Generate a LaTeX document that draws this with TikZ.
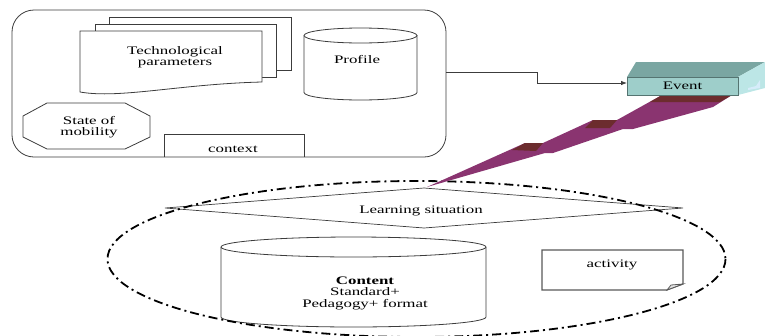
\documentclass[tikz,border=0pt]{standalone}
\usepackage{fontspec}
\setmainfont[FakeStretch=1.47]{Liberation Serif}
\usetikzlibrary{arrows.meta}
\definecolor{evfront}{RGB}{158,206,202}
\definecolor{evtop}{RGB}{122,166,162}
\definecolor{evside}{RGB}{188,230,230}
\definecolor{evpale}{RGB}{214,236,250}
\definecolor{wpurple}{RGB}{138,52,112}
\definecolor{wmaroon}{RGB}{108,44,46}
\definecolor{linegray}{RGB}{60,60,60}
\begin{document}
\begin{tikzpicture}[x=1pt,y=-1pt,
  shapeline/.style={draw=linegray, line width=0.8pt},
  lbl/.style={font=\fontsize{11.5}{11.5}\selectfont, align=center, inner sep=0pt},
  dashdotline/.style={draw=black, line width=1.8pt, dash pattern=on 9pt off 4pt on 2pt off 4pt},
  arr/.style={draw=linegray, line width=0.8pt, -{Latex[length=6pt,width=4.5pt]}}]
\useasboundingbox (0,0) rectangle (765,335);

% outer rounded box
\node[shapeline, rounded corners=22pt, minimum width=434pt, minimum height=147pt, inner sep=0pt] (outer) at (229,83.5) {};

% technological parameters (multi-document)
\draw[shapeline, fill=white] (109,17) rectangle (291,70);
\draw[shapeline, fill=white] (95,24) rectangle (276,77);
\draw[shapeline, fill=white] (80,31) -- (262,31) -- (262,82) .. controls (180,84) and (120,99) .. (80,92) -- cycle;
\node[lbl] (tech) at (175,57) {Technological\\parameters};

% profile cylinder
\fill[white] (304,35.5) rectangle (417,92.5);
\draw[shapeline, fill=white] (304,35.5) -- (304,92.5) .. controls (304,96.64) and (329.3,100) .. (360.5,100) .. controls (391.7,100) and (417,96.64) .. (417,92.5) -- (417,35.5);
\draw[shapeline, fill=white] (360.5,35.5) ellipse [x radius=56.5, y radius=7.5];
\node[lbl, anchor=base] (profile) at (357,63) {Profile};

% state of mobility octagon
\draw[shapeline, fill=white] (47,103) -- (125,103) -- (150,116) -- (150,137) -- (125,149) -- (47,149) -- (23,137) -- (23,116) -- cycle;
\node[lbl] (mobility) at (89,127) {State of\\mobility};

% context
\draw[shapeline] (164,157) -- (164,134) -- (304,134) -- (304,157);
\node[lbl, anchor=base] (context) at (233,152) {context};

% learning situation diamond
\coordinate (dl) at (165,208);
\coordinate (dt) at (424,188);
\coordinate (dr) at (683,208);
\coordinate (db) at (424,228);
\draw[shapeline, line width=0.7pt] (dl) -- (dt) -- (dr) -- (db) -- cycle;
\node[lbl, anchor=base] (learning) at (421,213) {Learning situation};

% content cylinder
\fill[white] (221,247) rectangle (486,317);
\draw[shapeline] (221,247) -- (221,317) .. controls (221,322.5) and (280.3,327) .. (353.5,327) .. controls (426.7,327) and (486,322.5) .. (486,317) -- (486,247);
\draw[shapeline, fill=white] (353.5,247) ellipse [x radius=132.5, y radius=10];
\node[lbl] (content) at (365,293) {\textbf{Content}\\Standard+\\Pedagogy+ format};

% activity
\draw[draw=gray!70!black, line width=1.1pt, fill=white] (542,250) -- (683,250) -- (683,284) -- (667,290) -- (542,290) -- cycle;
\draw[draw=gray!70!black, line width=0.8pt, fill=gray!20] (667,290) -- (671,285) -- (683,284) -- cycle;
\node[lbl, anchor=base] (activity) at (612,267) {activity};

% dash-dot ellipse
\draw[dashdotline] (416.5,259) ellipse [x radius=309, y radius=78];

% purple wedge
\fill[wpurple] (427,187) -- (525,143) -- (543,143) -- (593,120) -- (617,120) -- (662,95) -- (732,95) -- (713,107) -- (633,129) -- (623,129) -- (553,153) -- (545,153) -- cycle;
\fill[wmaroon] (525,143) -- (543,143) -- (536,151) -- (512,150) -- cycle;
\fill[wmaroon] (593,120) -- (617,120) -- (610,128) -- (585,128) -- cycle;
\fill[wmaroon] (662,95) -- (732,95) -- (720,102) -- (650,102) -- cycle;

% event 3D box
\fill[evtop] (627,77) -- (636,62) -- (765,62) -- (738,77) -- cycle;
\fill[evside] (738,77) -- (765,62) -- (765,88) -- (738,95) -- cycle;
\fill[evpale] (748,90) -- (760,88) -- (760,80) -- (756,86) -- (748,88) -- cycle;
\node[fill=evfront, draw=evtop!70!black, line width=0.4pt, minimum width=111pt, minimum height=18pt, inner sep=0pt, font=\fontsize{11.5}{11.5}\selectfont] (event) at (682.5,86) {Event};

% connector
\coordinate (ostart) at (446,72);
\coordinate (evin) at (627,83);
\draw[arr] (ostart) -| (537,83) -- (evin);
\end{tikzpicture}
\end{document}
